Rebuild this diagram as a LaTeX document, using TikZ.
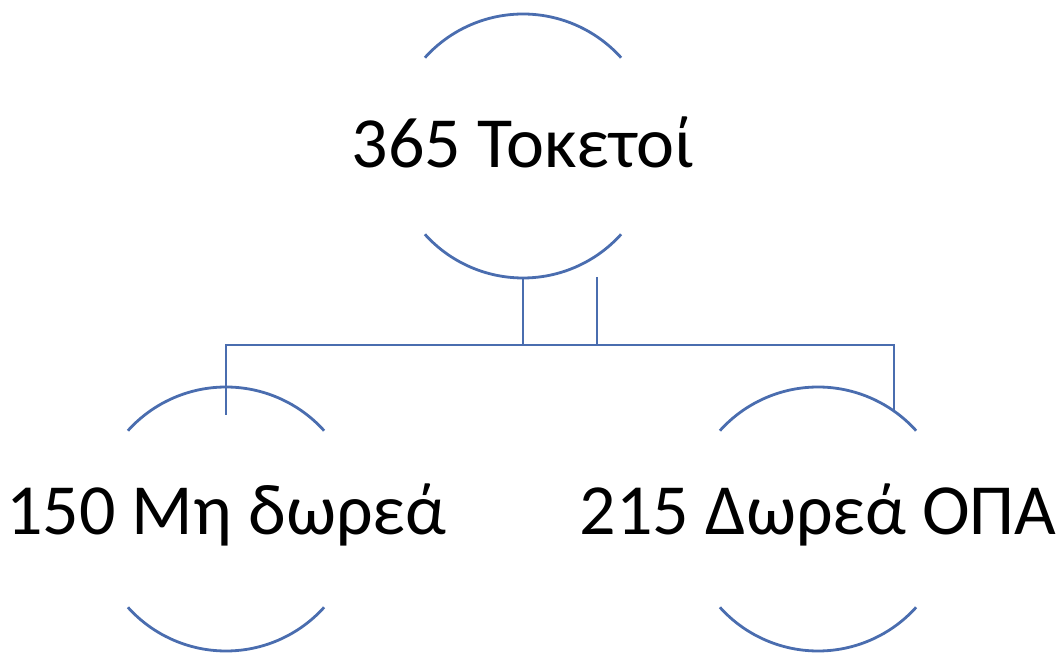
\documentclass[tikz,border=0pt]{standalone}
\usepackage{fontspec}
\setmainfont{Carlito}
\begin{document}
\begin{tikzpicture}[x=1pt,y=1pt,
  ring/.style={circle, minimum size=264pt, inner sep=0pt, outer sep=0pt},
  ringtext/.style={font=\fontsize{72}{86}\selectfont, inner sep=0pt, yshift=4pt},
  arcline/.style={draw=blueline, line width=2.8pt},
  conn/.style={draw=blueline, line width=2.8pt}]
\definecolor{blueline}{HTML}{4A6DAF}
\useasboundingbox (0,0) rectangle (1062,653);
\node[ring, label={[ringtext]center:365 Τοκετοί}] (top) at (523,507) {};
\node[ring, label={[ringtext]center:150 Μη δωρεά}] (left) at (226,134) {};
\node[ring, label={[ringtext]center:215 Δωρεά ΟΠΑ}] (right) at (818,134) {};
\foreach \n in {top,left,right}{
  \draw[arcline] (\n.138) arc[start angle=138, end angle=42, radius=132pt];
  \draw[arcline] (\n.222) arc[start angle=222, end angle=318, radius=132pt];
}
\coordinate (busL) at (226,308);
\coordinate (busR) at (894,308);
\coordinate (lend) at (226,238);
\coordinate (rend) at (894,241);
\coordinate (tick) at (597,376);
\draw[conn] (top.south) -- (top.south |- busL);
\draw[conn] (tick) -- (tick |- busL);
\draw[conn] (lend) -- (busL) -- (busR) -- (rend);
\end{tikzpicture}
\end{document}
